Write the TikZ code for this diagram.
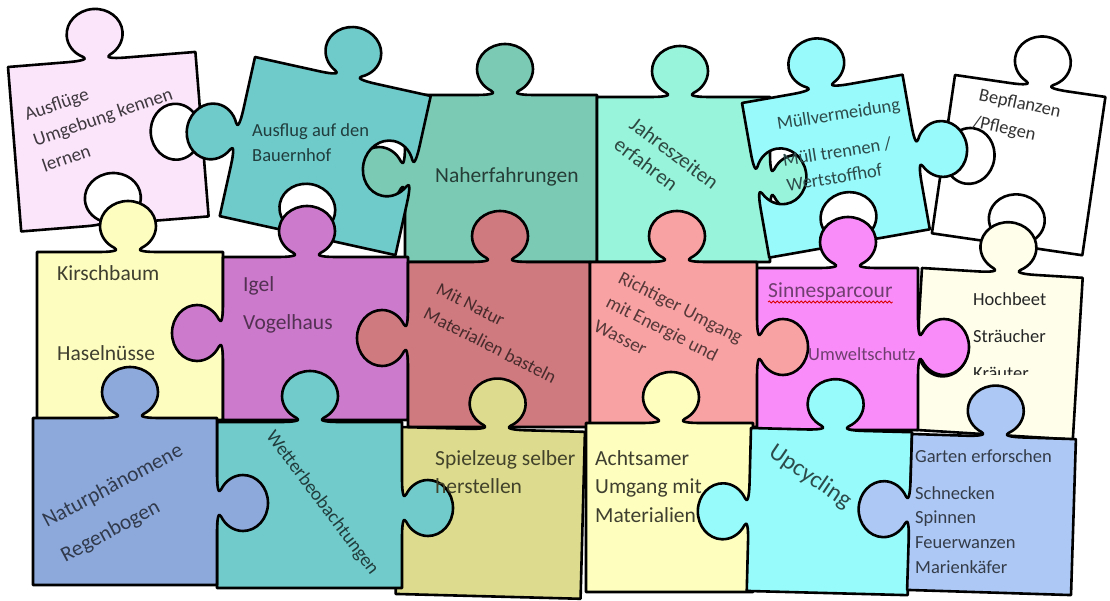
\documentclass[tikz,border=0pt]{standalone}
\usepackage{fontspec}
\setmainfont{Carlito}
\usetikzlibrary{decorations.pathmorphing}

\definecolor{cA}{HTML}{FBE5FB}
\definecolor{cB}{HTML}{6FCACA}
\definecolor{cC}{HTML}{7BCAB4}
\definecolor{cD}{HTML}{98F4DB}
\definecolor{cE}{HTML}{98FAFA}
\definecolor{cF}{HTML}{FEFDC0}
\definecolor{cG}{HTML}{CC7ACC}
\definecolor{cH}{HTML}{CE7A7F}
\definecolor{cJ}{HTML}{F9A2A4}
\definecolor{cK}{HTML}{F98CF9}
\definecolor{cL}{HTML}{FEFEEB}
\definecolor{cM}{HTML}{8DA9DB}
\definecolor{cN}{HTML}{70CBCA}
\definecolor{cO}{HTML}{DDDC8E}
\definecolor{cP}{HTML}{FEFEBF}
\definecolor{cQ}{HTML}{97FBFB}
\definecolor{cR}{HTML}{ADC8F4}

\newcommand\fsz[2]{\fontsize{#1pt}{#2pt}\selectfont}
\newcommand\kss{1.12}
\newcommand\ksm{1.0}
\newcommand\kadd[1]{\edef\pth{\pth\space #1\space}}
\newcommand\kpt[2]{%
  \pgfmathsetmacro\kx{\kcx+(#1)*(\kex)*\kss+(#2)*(\kmx)*\ksm}%
  \pgfmathsetmacro\ky{\kcy+(#1)*(\key)*\kss+(#2)*(\kmy)*\ksm}%
  \edef\pth{\pth(\kx,\ky)}}
\newcommand\knob[6]{%
  \def\kcx{#1}\def\kcy{#2}\def\kex{#3}\def\key{#4}\def\kmx{#5}\def\kmy{#6}%
  \kadd{--}\kpt{-26}{0}%
  \kadd{.. controls}\kpt{-13}{0}\kadd{and}\kpt{-7.61}{1.67}\kadd{..}\kpt{-12}{4.07}%
  \kadd{.. controls}\kpt{-20.02}{8.46}\kadd{and}\kpt{-25}{16.86}\kadd{..}\kpt{-25}{26}%
  \kadd{.. controls}\kpt{-25}{39.81}\kadd{and}\kpt{-13.81}{51}\kadd{..}\kpt{0}{51}%
  \kadd{.. controls}\kpt{13.81}{51}\kadd{and}\kpt{25}{39.81}\kadd{..}\kpt{25}{26}%
  \kadd{.. controls}\kpt{25}{16.86}\kadd{and}\kpt{20.02}{8.46}\kadd{..}\kpt{12}{4.07}%
  \kadd{.. controls}\kpt{7.61}{1.67}\kadd{and}\kpt{13}{0}\kadd{..}\kpt{26}{0}}
\newcommand\kT[2]{\knob{#1}{0}{1}{0}{0}{-(#2)}}
\newcommand\kR[2]{\knob{\pw}{#1}{0}{1}{#2}{0}}
\newcommand\kB[2]{\knob{#1}{\ph}{-1}{0}{0}{#2}}
\newcommand\kL[2]{\knob{0}{#1}{0}{-1}{-(#2)}{0}}
\newcommand\piece[8]{%
  \begin{scope}[#1]%
  \def\pw{#3}\def\ph{#4}\def\pth{(0,0)}%
  #5\kadd{-- (#3,0)}#6\kadd{-- (#3,#4)}#7\kadd{-- (0,#4)}#8\kadd{-- cycle}%
  \edef\tmp{\noexpand\path[pc,fill=#2] \pth;}\tmp
  \end{scope}}

\begin{document}
\begin{tikzpicture}[x=1pt,y=-1pt,
  pc/.style={draw=black,line width=2.6pt,line join=round},
  tx/.style={inner sep=0pt,align=left,anchor=base west}]
\fill[white] (0,0) rectangle (1110,601);
\useasboundingbox (0,0) rectangle (1110,601);

% row 1
\piece{shift={(405,95)}}{cC}{192}{167}{\kT{100}{1}}{}{}{\kL{80}{1}}
\piece{shift={(8,67)},rotate=4.6}{cA}{188}{165}{\kT{89}{1}}{\kR{78}{-1}}{\kB{94}{-1}}{}
\piece{shift={(255,57)},rotate=-12.5}{cB}{180}{163}{\kT{95}{1}}{\kR{80}{-1}}{\kB{84}{-1}}{\kL{82}{1}}
\piece{shift={(597,97)}}{cD}{173}{165}{\kT{83}{1}}{\kR{86}{1}}{}{}
\piece{shift={(955,75)},rotate=-8.3}{white}{152}{160}{\kT{85}{1}}{}{\kB{82}{-1}}{\kL{78}{-1}}
\piece{shift={(742,103)},rotate=10}{cE}{163}{157}{\kT{80}{1}}{\kR{80}{1}}{\kB{85}{-1}}{\kL{79}{-1}}
% row 2
\piece{shift={(37,252)}}{cF}{186}{168}{\kT{91}{1}}{}{}{}
\piece{shift={(223,257)}}{cG}{185}{163}{\kT{84}{1}}{}{}{\kL{76}{1}}
\piece{shift={(408,262)}}{cH}{182}{165}{\kT{92}{1}}{}{}{\kL{76}{1}}
\piece{shift={(922,268)},rotate=-3.5}{cL}{161}{162}{\kT{85}{1}}{}{}{\kL{79}{-1}}
\piece{shift={(755,268)}}{cK}{163}{162}{\kT{93}{1}}{\kR{79}{1}}{}{}
\piece{shift={(590,262)}}{cJ}{167}{165}{\kT{87}{1}}{\kR{85}{1}}{}{}
% row 3
\piece{shift={(400,427)},rotate=-1.5}{cO}{185}{167}{\kT{97}{1}}{}{}{}
\piece{shift={(217,422)}}{cN}{185}{166}{\kT{93}{1}}{\kR{86}{1}}{}{}
\piece{shift={(33,418)}}{cM}{184}{167}{\kT{97}{1}}{\kR{85}{1}}{}{}
\piece{shift={(586,423)}}{cP}{167}{169}{\kT{85}{1}}{}{}{}
\piece{shift={(751,428)},rotate=-1.5}{cQ}{161}{163}{\kT{84}{1}}{}{}{\kL{84}{1}}
\piece{shift={(912,434)},rotate=-1.8}{cR}{164}{156}{\kT{83}{1}}{}{}{\kL{76}{1}}

% texts (base anchor = baseline of the last line)
\node[tx,rotate=19,text=cA!25!black,font=\fsz{19}{27}] (t1) at (44.6,172.1) {Ausflüge\\Umgebung kennen\\lernen};
\node[tx,text=cB!30!black,font=\fsz{18.5}{25}] (t2) at (252,162) {Ausflug auf den\\Bauernhof};
\node[tx,text=cC!30!black,font=\fsz{21.5}{26}] (t3) at (435,183) {Naherfahrungen};
\node[tx,rotate=-37,text=cD!30!black,font=\fsz{21}{26}] (t4) at (612.4,147.8) {Jahreszeiten\\erfahren};
\node[tx,rotate=9,text=cE!30!black,font=\fsz{18.5}{25}] (t5) at (787.7,191.2) {Müllvermeidung\\[12pt]Müll trennen /\\Wertstoffhof};
\node[tx,rotate=-12,text=black!80,font=\fsz{18.5}{28}] (t6) at (972.2,127.4) {Bepflanzen\\/Pflegen};
\node[tx,text=cF!25!black,font=\fsz{21.5}{26}] (t7) at (57,360) {Kirschbaum\\[54pt]Haselnüsse};
\node[tx,text=cG!40!black,font=\fsz{21.5}{38}] (t8) at (243,330) {Igel\\Vogelhaus};
\node[tx,rotate=-27,text=cH!35!black,font=\fsz{18.5}{28}] (t9) at (422.3,317.9) {Mit Natur\\Materialien basteln};
\node[tx,rotate=-27,text=cJ!35!black,font=\fsz{19}{27}] (t10) at (592.5,330.1) {Richtiger Umgang\\mit Energie und\\Wasser};
\node[tx,text=cK!45!black,font=\fsz{21.5}{26}] (t11) at (768,298) {Sinnesparcour};
\draw[red!85!black,line width=0.8pt,decorate,decoration={snake,amplitude=1pt,segment length=4pt}] ([yshift=-4pt]t11.base west) -- ([yshift=-4pt]t11.base east);
\node[tx,text=cK!45!black,font=\fsz{18.5}{25}] (t12) at (808,360) {Umweltschutz};
\node[tx,text=black!85,font=\fsz{18.5}{37}] (t13) at (973,342) {Hochbeet\\Sträucher};
\begin{scope}
\clip (960,355) rectangle (1070,374);
\node[tx,text=black!85,font=\fsz{18.5}{37}] (t14) at (973,379) {Kräuter};
\end{scope}
\node[tx,rotate=28,text=cM!35!black,font=\fsz{21.5}{39}] (t15) at (65.3,562.4) {Naturphänomene\\Regenbogen};
\node[inner sep=0pt,rotate=-53,text=cN!30!black,font=\fsz{19}{25}] (t16) at (322,503) {Wetterbeobachtungen};
\node[tx,text=cO!30!black,font=\fsz{21.5}{28}] (t17) at (435,493) {Spielzeug selber\\herstellen};
\node[tx,text=cP!25!black,font=\fsz{21.5}{28.5}] (t18) at (595,522) {Achtsamer\\Umgang mit\\Materialien};
\node[inner sep=0pt,rotate=-34,text=cQ!30!black,font=\fsz{24}{28}] (t19) at (810,477) {Upcycling};
\node[tx,text=cR!30!black,font=\fsz{18.5}{24.7}] (t20) at (915,573.1) {Garten erforschen\\[12.3pt]Schnecken\\Spinnen\\Feuerwanzen\\Marienkäfer};
\end{tikzpicture}
\end{document}
